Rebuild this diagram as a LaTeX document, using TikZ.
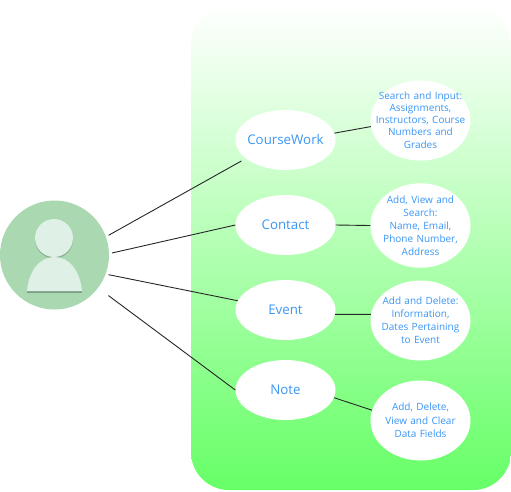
\documentclass[tikz,border=0pt]{standalone}
\usepackage{fontspec}
\setmainfont{Open Sans}
\definecolor{labelblue}{HTML}{3A96F5}
\definecolor{avatar}{HTML}{A9D8B1}
\definecolor{figurefill}{HTML}{DFF0E7}
\definecolor{figureshadow}{HTML}{7FA088}
\definecolor{panelgreen}{HTML}{66FF66}
\tikzset{
  x=1pt,y=-1pt,
  bubble/.style={ellipse,fill=white,draw=none,text=labelblue,align=center,inner sep=0pt,text width=1pt},
  mainb/.style={bubble,minimum width=100pt,minimum height=60pt,font=\fontsize{13.3}{14}\selectfont},
  subb/.style={bubble,minimum width=100pt,minimum height=80pt,font=\fontsize{10}{13}\selectfont},
  link/.style={draw=black!85,line width=0.9pt},
}
\usetikzlibrary{shapes.geometric}
\newcommand{\ctr}[1]{\makebox[0pt]{#1}}
\begin{document}
\begin{tikzpicture}
\useasboundingbox (0,0) rectangle (511,491);
\shade[top color=white,bottom color=panelgreen,rounded corners=38pt] (191,6) rectangle (511,490);
% avatar
\node[circle,fill=avatar,minimum size=109pt,inner sep=0pt,outer sep=3pt] (person) at (54.5,255) {};
\fill[figureshadow,opacity=.7] (54,239.5) circle (19);
\fill[figureshadow] (27,293) -- (82,293) -- (82,291) -- (27,291) -- cycle;
\fill[figurefill] (54,238) circle (19);
\fill[figurefill] (27,291) .. controls (29,270) and (40,257) .. (54.5,257) .. controls (69,257) and (80,270) .. (82,291) -- cycle;
% main nodes
\node[mainb] (course) at (285.5,140) {\ctr{CourseWork}};
\node[mainb] (contact) at (285.5,225) {\ctr{Contact}};
\node[mainb] (event) at (285.5,310) {\ctr{Event}};
\node[mainb] (note) at (285.5,390) {\ctr{Note}};
% detail nodes
\node[subb] (d1) at (420.5,120.5) {\fontsize{10}{12}\selectfont\ctr{Search and Input:}\\\ctr{Assignments,}\\\ctr{Instructors, Course}\\\ctr{Numbers and}\\\ctr{Grades}};
\node[subb] (d2) at (420.5,225.5) {\ctr{Add, View and}\\\ctr{Search:}\\\ctr{Name, Email,}\\\ctr{Phone Number,}\\\ctr{Address}};
\node[subb] (d3) at (420.5,320.5) {\ctr{Add and Delete:}\\\ctr{Information,}\\\ctr{Dates Pertaining}\\\ctr{to Event}};
\node[subb] (d4) at (420.5,420.5) {\fontsize{10}{14.3}\selectfont\ctr{Add, Delete,}\\\ctr{View and Clear}\\\ctr{Data Fields}};
% connectors
\draw[link,shorten >=5pt] (person.20) -- (course.205);
\draw[link] (person.2) -- (contact.180);
\draw[link] (person.-20) -- (event.169);
\draw[link,shorten <=10pt] (person.-37) -- (note.180);
\draw[link] (course.8) -- (d1.187);
\draw[link] (contact.0) -- (d2.180);
\draw[link] (event.-5) -- (d3.173);
\draw[link] (note.-9.5) -- (d4.168);
\end{tikzpicture}
\end{document}
